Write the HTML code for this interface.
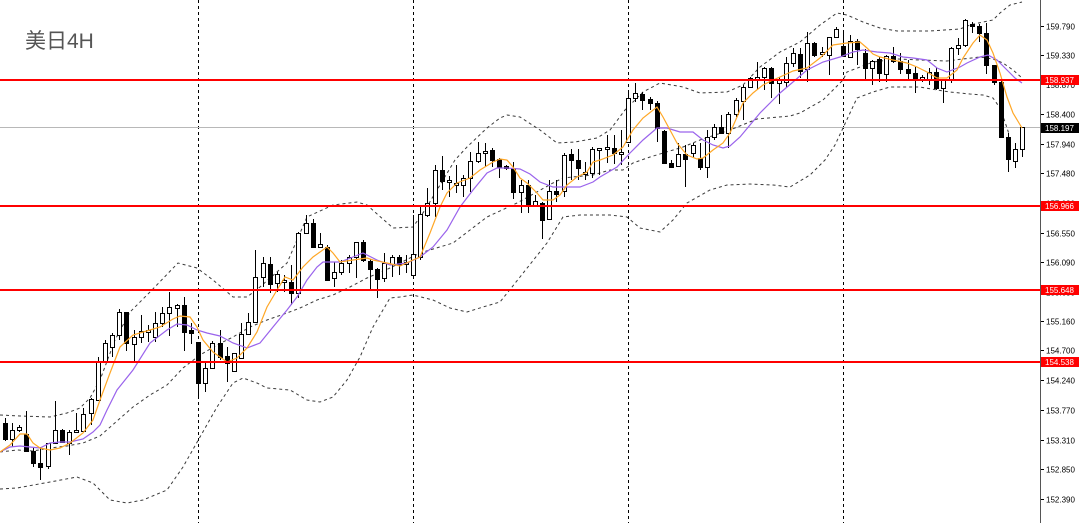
<!DOCTYPE html>
<html><head><meta charset="utf-8"><style>
html,body{margin:0;padding:0;background:#fff;}
svg{display:block;}
</style></head><body>
<svg width="1080" height="523" viewBox="0 0 1080 523" xmlns="http://www.w3.org/2000/svg">
<rect x="0" y="0" width="1080" height="523" fill="#fff"/>
<!-- title -->
<text x="25" y="48" font-size="21" fill="#555" font-family="'Liberation Sans','Noto Sans CJK SC',sans-serif">美日4H</text>
<!-- vertical week separators -->
<g stroke="#000" stroke-width="1" stroke-dasharray="3,3">
<path d="M198.5 0V523M413.5 0V523M628.5 0V523M843.5 0V523"/>
</g>
<!-- bid line -->
<path d="M0 127.5H1040" stroke="#b8b8b8" stroke-width="1"/>
<!-- bollinger bands -->
<g fill="none" stroke="#3a3a3a" stroke-width="1" stroke-dasharray="3,3">
<polyline points="0,415 20,416 50,417 67,413 80,408 90,398 100,380 115,340 130,312 150,292 178,263 197,268 213,280 233,297 247,297 260,287 287,263 307,217 333,205 357,202 367,205 393,228 413,227 425,210 440,185 455,160 467,147 487,128 500,118 507,115 520,117 540,130 557,143 575,142 597,138 610,130 625,110 643,92 660,83 683,87 700,93 727,92 743,85 760,67 780,52 800,42 820,25 837,13 847,15 863,22 880,28 897,31 930,31 960,29 970,25 983,22 993,20 1000,13 1010,5 1022,2"/>
<polyline points="0,452 17,450 33,451 50,448 67,446 83,443 100,436 117,421 133,407 150,395 167,385 183,368 200,355 217,345 233,337 250,327 267,320 287,313 300,308 317,300 333,295 350,287 367,278 390,268 420,253 453,243 487,217 517,203 553,183 563,178 593,175 610,170 623,170 633,163 650,157 683,147 700,140 730,130 757,119 790,116 800,113 823,100 843,80 847,72 873,62 897,59 920,60 947,61 963,59 980,57 993,59 1003,63 1013,70 1022,78"/>
<polyline points="0,489 17,488 50,482 77,477 93,483 110,500 127,503 143,500 167,490 183,467 200,437 217,407 233,383 243,378 257,383 267,388 290,390 307,400 320,402 333,397 347,380 360,357 373,327 390,298 400,297 413,295 433,300 450,308 467,312 483,307 500,302 520,277 547,243 563,217 580,215 610,215 627,217 640,228 660,232 673,220 687,203 710,190 727,185 750,184 773,185 790,187 810,175 825,160 835,145 843,128 857,98 873,92 890,87 920,87 937,90 950,92 970,94 983,95 993,98 1000,108 1005,122 1009,134"/>
</g>
<!-- wicks -->
<path fill="none" stroke="#000" stroke-width="1" d="M5.5 418V441M12.5 423V447M19.5 425V432M26.5 411V452M33.5 447V467M40.5 447V480M48.5 443V469M55.5 401V443M62.5 429V443M69.5 430V455M76.5 413V432M83.5 408V432M91.5 398V425M98.5 357V401M105.5 340V362M112.5 333V357M119.5 309V340M126.5 312V351M134.5 330V361M141.5 315V343M148.5 325V342M155.5 312V342M162.5 307V327M169.5 292V336M177.5 304V327M184.5 297V351M191.5 323V344M198.5 342V397M205.5 363V392M212.5 341V369M220.5 330V360M227.5 347V382M234.5 353V371M241.5 323V358M248.5 313V334M255.5 250V322M263.5 257V287M270.5 257V293M277.5 272V292M284.5 275V292M291.5 265V305M298.5 232V298M306.5 215V233M313.5 219V247M320.5 233V248M327.5 245V281M334.5 262V287M341.5 260V275M349.5 255V273M356.5 242V278M363.5 240V262M370.5 259V290M377.5 268V298M384.5 253V282M392.5 255V277M399.5 255V275M406.5 255V273M413.5 215V275M420.5 205V260M427.5 188V217M435.5 165V217M442.5 156V190M449.5 176V197M456.5 165V193M463.5 175V197M470.5 152V192M478.5 142V163M485.5 143V167M492.5 148V167M499.5 158V178M506.5 165V170M513.5 162V199M521.5 180V213M528.5 180V213M535.5 195V207M542.5 202V239M549.5 180V220M556.5 180V202M564.5 153V197M571.5 149V180M578.5 149V180M585.5 162V180M592.5 147V178M599.5 148V175M607.5 135V163M614.5 135V164M621.5 130V165M628.5 93V142M635.5 83V102M642.5 92V110M650.5 97V110M657.5 101V142M664.5 130V164M671.5 160V168M678.5 143V167M685.5 145V187M693.5 143V158M700.5 143V170M707.5 130V178M714.5 124V140M721.5 115V133M728.5 112V148M736.5 98V117M743.5 85V120M750.5 77V88M757.5 62V90M764.5 67V90M771.5 67V98M779.5 77V104M786.5 57V87M793.5 48V67M800.5 48V78M807.5 32V82M814.5 42V57M822.5 47V57M829.5 37V75M836.5 27V38M843.5 33V57M850.5 35V58M857.5 39V65M865.5 49V79M872.5 60V85M879.5 57V82M886.5 55V82M893.5 47V63M900.5 53V74M908.5 60V79M915.5 67V93M922.5 75V82M929.5 68V85M936.5 68V90M943.5 79V103M951.5 47V83M958.5 38V55M965.5 19V47M972.5 22V33M979.5 24V42M986.5 23V74M994.5 65V85M1001.5 80V137M1008.5 133V172M1015.5 143V168M1022.5 127V157"/>
<!-- white bodies -->
<g fill="#fff" stroke="#000" stroke-width="1">
<rect x="10.5" y="430.5" width="4" height="9"/><rect x="17.5" y="427.5" width="4" height="3"/><rect x="46.5" y="443.5" width="4" height="23"/><rect x="53.5" y="430.5" width="4" height="13"/><rect x="67.5" y="432.5" width="4" height="11"/><rect x="74.5" y="430.5" width="4" height="2"/><rect x="81.5" y="414.5" width="4" height="17"/><rect x="89.5" y="399.5" width="4" height="14"/><rect x="96.5" y="361.5" width="4" height="39"/><rect x="103.5" y="343.5" width="4" height="19"/><rect x="110.5" y="335.5" width="4" height="12"/><rect x="117.5" y="312.5" width="4" height="23"/><rect x="132.5" y="337.5" width="4" height="7"/><rect x="139.5" y="331.5" width="4" height="6"/><rect x="146.5" y="330.5" width="4" height="2"/><rect x="153.5" y="323.5" width="4" height="14"/><rect x="160.5" y="313.5" width="4" height="10"/><rect x="167.5" y="307.5" width="4" height="6"/><rect x="175.5" y="305.5" width="4" height="3"/>
<rect x="203.5" y="368.5" width="4" height="15"/><rect x="210.5" y="343.5" width="4" height="25"/><rect x="232.5" y="353.5" width="4" height="18"/><rect x="239.5" y="334.5" width="4" height="24"/><rect x="246.5" y="322.5" width="4" height="12"/><rect x="253.5" y="277.5" width="4" height="45"/><rect x="261.5" y="263.5" width="4" height="14"/><rect x="275.5" y="274.5" width="4" height="9"/><rect x="282.5" y="280.5" width="4" height="2"/><rect x="296.5" y="233.5" width="4" height="60"/><rect x="304.5" y="223.5" width="4" height="10"/><rect x="318.5" y="244.5" width="4" height="3"/><rect x="332.5" y="272.5" width="4" height="6"/><rect x="339.5" y="263.5" width="4" height="9"/><rect x="347.5" y="257.5" width="4" height="6"/><rect x="354.5" y="242.5" width="4" height="15"/><rect x="382.5" y="263.5" width="4" height="15"/><rect x="390.5" y="257.5" width="4" height="7"/><rect x="404.5" y="262.5" width="4" height="2"/><rect x="411.5" y="254.5" width="4" height="21"/><rect x="418.5" y="214.5" width="4" height="43"/><rect x="425.5" y="203.5" width="4" height="12"/><rect x="433.5" y="170.5" width="4" height="33"/>
<rect x="447.5" y="180.5" width="4" height="2"/><rect x="454.5" y="183.5" width="4" height="2"/><rect x="461.5" y="178.5" width="4" height="7"/><rect x="468.5" y="161.5" width="4" height="17"/><rect x="476.5" y="153.5" width="4" height="8"/><rect x="483.5" y="151.5" width="4" height="2"/><rect x="519.5" y="185.5" width="4" height="7"/><rect x="533.5" y="201.5" width="4" height="4"/><rect x="547.5" y="191.5" width="4" height="28"/><rect x="562.5" y="155.5" width="4" height="36"/><rect x="583.5" y="172.5" width="4" height="2"/><rect x="590.5" y="149.5" width="4" height="24"/><rect x="597.5" y="148.5" width="4" height="2"/><rect x="605.5" y="147.5" width="4" height="2"/><rect x="619.5" y="152.5" width="4" height="2"/><rect x="626.5" y="98.5" width="4" height="44"/><rect x="633.5" y="93.5" width="4" height="5"/>
<rect x="676.5" y="154.5" width="4" height="12"/><rect x="691.5" y="145.5" width="4" height="8"/><rect x="705.5" y="137.5" width="4" height="30"/><rect x="712.5" y="127.5" width="4" height="10"/><rect x="726.5" y="114.5" width="4" height="19"/><rect x="734.5" y="100.5" width="4" height="14"/><rect x="741.5" y="87.5" width="4" height="14"/><rect x="748.5" y="78.5" width="4" height="9"/><rect x="755.5" y="77.5" width="4" height="3"/><rect x="762.5" y="68.5" width="4" height="9"/><rect x="777.5" y="80.5" width="4" height="3"/><rect x="784.5" y="63.5" width="4" height="19"/><rect x="791.5" y="53.5" width="4" height="10"/><rect x="805.5" y="43.5" width="4" height="26"/><rect x="820.5" y="52.5" width="4" height="2"/><rect x="827.5" y="37.5" width="4" height="18"/><rect x="834.5" y="29.5" width="4" height="8"/><rect x="848.5" y="41.5" width="4" height="16"/><rect x="870.5" y="61.5" width="4" height="7"/><rect x="884.5" y="56.5" width="4" height="18"/><rect x="920.5" y="77.5" width="4" height="2"/><rect x="927.5" y="72.5" width="4" height="8"/><rect x="941.5" y="80.5" width="4" height="8"/><rect x="949.5" y="48.5" width="4" height="32"/><rect x="956.5" y="45.5" width="4" height="3"/><rect x="963.5" y="20.5" width="4" height="25"/><rect x="1013.5" y="149.5" width="4" height="12"/><rect x="1020.5" y="127.5" width="4" height="22"/>
</g>
<!-- black bodies -->
<g fill="#000" stroke="#000" stroke-width="1">
<rect x="3.5" y="423.5" width="4" height="16"/><rect x="24.5" y="434.5" width="4" height="17"/><rect x="31.5" y="451.5" width="4" height="12"/><rect x="38.5" y="463.5" width="4" height="4"/><rect x="60.5" y="430.5" width="4" height="12"/><rect x="124.5" y="312.5" width="4" height="31"/><rect x="182.5" y="305.5" width="4" height="27"/><rect x="189.5" y="330.5" width="4" height="3"/><rect x="196.5" y="342.5" width="4" height="41"/><rect x="218.5" y="343.5" width="4" height="14"/><rect x="225.5" y="356.5" width="4" height="7"/><rect x="268.5" y="264.5" width="4" height="20"/><rect x="289.5" y="282.5" width="4" height="11"/><rect x="311.5" y="223.5" width="4" height="24"/><rect x="325.5" y="247.5" width="4" height="33"/><rect x="361.5" y="242.5" width="4" height="18"/><rect x="368.5" y="261.5" width="4" height="8"/><rect x="375.5" y="269.5" width="4" height="10"/><rect x="397.5" y="257.5" width="4" height="8"/>
<rect x="440.5" y="170.5" width="4" height="11"/><rect x="490.5" y="150.5" width="4" height="10"/><rect x="497.5" y="159.5" width="4" height="8"/><rect x="504.5" y="166.5" width="4" height="2"/><rect x="511.5" y="168.5" width="4" height="24"/><rect x="526.5" y="185.5" width="4" height="20"/><rect x="540.5" y="203.5" width="4" height="17"/><rect x="554.5" y="191.5" width="4" height="3"/><rect x="569.5" y="154.5" width="4" height="6"/><rect x="576.5" y="160.5" width="4" height="8"/><rect x="612.5" y="148.5" width="4" height="5"/><rect x="640.5" y="94.5" width="4" height="6"/><rect x="648.5" y="99.5" width="4" height="4"/><rect x="655.5" y="103.5" width="4" height="25"/><rect x="662.5" y="131.5" width="4" height="32"/><rect x="669.5" y="163.5" width="4" height="4"/><rect x="683.5" y="154.5" width="4" height="5"/><rect x="698.5" y="158.5" width="4" height="9"/><rect x="719.5" y="127.5" width="4" height="6"/>
<rect x="769.5" y="68.5" width="4" height="15"/><rect x="798.5" y="54.5" width="4" height="17"/><rect x="812.5" y="43.5" width="4" height="12"/><rect x="841.5" y="46.5" width="4" height="10"/><rect x="855.5" y="41.5" width="4" height="8"/><rect x="863.5" y="53.5" width="4" height="15"/><rect x="877.5" y="59.5" width="4" height="14"/><rect x="891.5" y="56.5" width="4" height="5"/><rect x="898.5" y="61.5" width="4" height="8"/><rect x="906.5" y="69.5" width="4" height="4"/><rect x="913.5" y="73.5" width="4" height="6"/><rect x="934.5" y="72.5" width="4" height="16"/><rect x="970.5" y="24.5" width="4" height="2"/><rect x="977.5" y="26.5" width="4" height="7"/><rect x="984.5" y="33.5" width="4" height="32"/><rect x="992.5" y="65.5" width="4" height="17"/><rect x="999.5" y="82.5" width="4" height="55"/><rect x="1006.5" y="137.5" width="4" height="22"/>
</g>
<!-- moving averages -->
<polyline fill="none" stroke="#9a63ec" stroke-width="1.2" points="0,452 10,447 20,446 30,447 40,448 50,443 60,442 70,442 83,439 93,432 100,425 107,410 117,390 133,370 150,343 167,330 177,324 187,325 197,330 207,333 220,336 233,343 247,348 260,343 273,327 287,310 297,297 307,280 317,267 323,262 340,262 353,257 363,253 377,260 390,265 407,263 420,257 433,247 447,230 460,207 473,190 487,173 497,168 507,168 520,169 530,174 540,182 553,187 567,187 580,187 593,182 600,177 617,167 630,153 643,140 657,128 667,128 680,132 693,132 703,140 713,145 723,148 730,146 740,137 750,125 760,113 773,100 780,93 793,82 807,70 823,62 840,57 853,52 863,50 877,52 890,53 903,57 913,58 927,60 937,68 947,72 960,67 967,63 980,57 988,55 997,60 1007,70 1015,78 1022,83"/>
<polyline fill="none" stroke="#ffa726" stroke-width="1.2" points="0,452 10,445 20,434 27,434 33,443 40,448 50,450 60,448 70,443 83,433 93,420 100,400 110,373 120,347 133,335 150,330 160,327 173,319 180,316 190,317 197,327 203,340 213,352 227,362 237,358 247,348 257,332 267,307 277,290 285,277 293,280 303,267 313,257 327,247 333,253 340,262 353,260 367,258 373,260 387,263 400,266 413,260 420,257 430,233 440,207 447,193 457,183 470,178 480,170 493,162 500,159 507,160 513,167 520,178 527,183 537,193 543,200 553,200 560,195 567,185 577,177 587,172 593,162 600,160 613,155 623,147 633,130 643,118 657,107 663,117 670,130 677,143 687,155 697,159 703,158 713,150 723,143 730,133 737,117 743,103 753,93 763,85 773,80 780,77 793,71 807,68 820,58 833,45 847,43 860,42 867,48 873,54 880,57 893,60 907,63 917,67 927,72 937,78 947,78 957,70 963,58 973,43 980,35 987,40 993,53 1000,73 1007,97 1013,113 1022,128"/>
<!-- red horizontal levels -->
<g fill="#ff0000">
<rect x="0" y="79" width="1040" height="2"/>
<rect x="0" y="205" width="1040" height="2"/>
<rect x="0" y="289" width="1040" height="2"/>
<rect x="0" y="361" width="1040" height="2"/>
</g>
<!-- price axis -->
<rect x="1040" y="0" width="40" height="523" fill="#fff"/>
<path d="M1040.5 0V523" stroke="#555" stroke-width="1"/>
<g stroke="#000" stroke-width="1">
<path d="M1041 26.5h3M1041 55.5h3M1041 84.5h3M1041 114.5h3M1041 144.5h3M1041 173.5h3M1041 203.5h3M1041 233.5h3M1041 262.5h3M1041 292.5h3M1041 321.5h3M1041 350.5h3M1041 380.5h3M1041 410.5h3M1041 440.5h3M1041 469.5h3M1041 499.5h3"/>
</g>
<g font-family="'Liberation Sans',sans-serif" font-size="8" fill="#000">
<text x="1046" y="29.5">159.790</text>
<text x="1046" y="58.5">159.330</text>
<text x="1046" y="88">158.870</text>
<text x="1046" y="117.5">158.400</text>
<text x="1046" y="147.5">157.940</text>
<text x="1046" y="176.5">157.480</text>
<text x="1046" y="206.5">157.020</text>
<text x="1046" y="236.5">156.550</text>
<text x="1046" y="265.5">156.090</text>
<text x="1046" y="295.5">155.630</text>
<text x="1046" y="324.5">155.160</text>
<text x="1046" y="353.5">154.700</text>
<text x="1046" y="383.5">154.240</text>
<text x="1046" y="413.5">153.770</text>
<text x="1046" y="443.5">153.310</text>
<text x="1046" y="472.5">152.850</text>
<text x="1046" y="502.5">152.390</text>
</g>
<!-- level labels -->
<g>
<rect x="1041" y="75" width="38" height="10" fill="#ff0000"/>
<rect x="1041" y="201" width="38" height="10" fill="#ff0000"/>
<rect x="1041" y="285" width="38" height="10" fill="#ff0000"/>
<rect x="1041" y="357" width="38" height="10" fill="#ff0000"/>
<rect x="1041" y="123" width="38" height="10" fill="#000"/>
</g>
<g font-family="'Liberation Sans',sans-serif" font-size="8" fill="#fff">
<text x="1045" y="83">158.937</text>
<text x="1045" y="209">156.966</text>
<text x="1045" y="293">155.648</text>
<text x="1045" y="365">154.538</text>
<text x="1045" y="131">158.197</text>
</g>
</svg>
</body></html>
